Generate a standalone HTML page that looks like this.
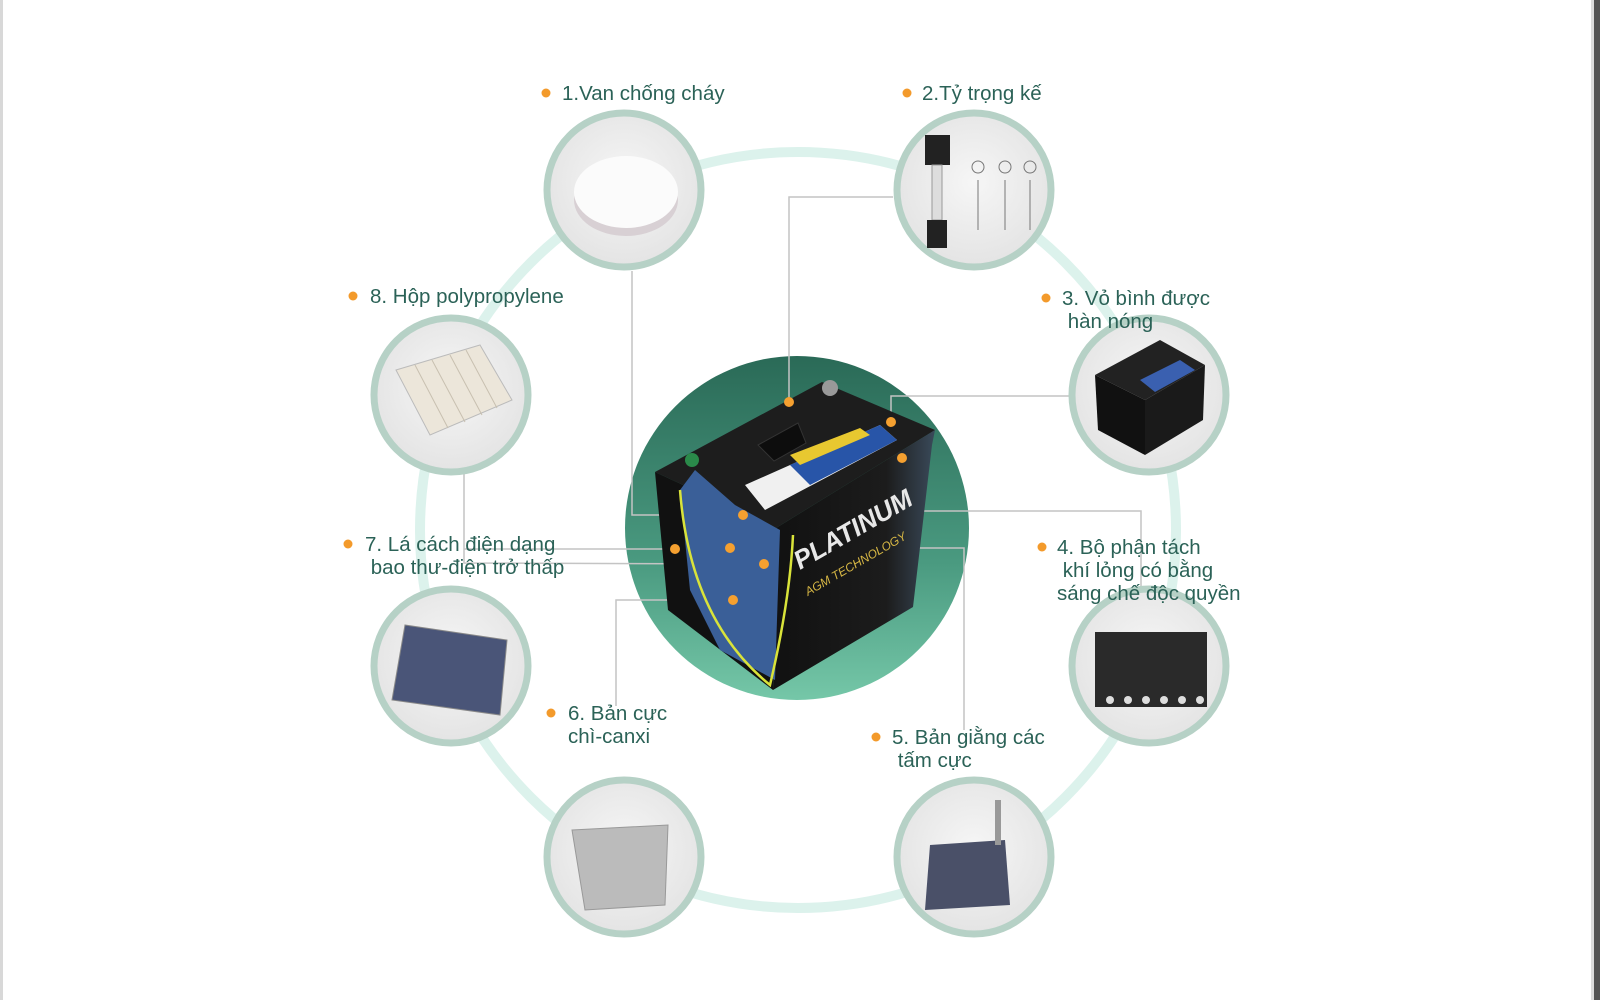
<!DOCTYPE html>
<html><head><meta charset="utf-8"><style>
html,body{margin:0;padding:0;background:#fff;}
body{width:1600px;height:1000px;position:relative;overflow:hidden;font-family:"Liberation Sans",sans-serif;}
.t{position:absolute;font-size:20.5px;color:#2b6257;line-height:23px;white-space:nowrap;}
</style></head><body>
<svg width="1600" height="1000" style="position:absolute;left:0;top:0">
<defs>
<linearGradient id="g" x1="0" y1="0" x2="0" y2="1"><stop offset="0" stop-color="#2a6a57"/><stop offset="0.6" stop-color="#4a9a80"/><stop offset="1" stop-color="#75c7a8"/></linearGradient>
<radialGradient id="sc" cx="0.5" cy="0.45" r="0.6"><stop offset="0" stop-color="#f6f6f6"/><stop offset="1" stop-color="#e2e2e2"/></radialGradient>
<linearGradient id="fr" x1="0" y1="0" x2="1" y2="0"><stop offset="0" stop-color="#111"/><stop offset="0.7" stop-color="#1c1c1c"/><stop offset="1" stop-color="#3a4a5a"/></linearGradient>
</defs>
<rect x="0" y="0" width="3" height="1000" fill="#d8d8d8"/>
<rect x="1594" y="0" width="6" height="1000" fill="#555"/>
<rect x="1591" y="0" width="3" height="1000" fill="#ddd"/>
<circle cx="798" cy="530" r="378" fill="none" stroke="#dcf2ec" stroke-width="10"/>
<circle cx="797" cy="528" r="172" fill="url(#g)"/>
<g stroke="#c4c4c4" stroke-width="1.5" fill="none">
<polyline points="632,271 632,515 743,515"/>
<polyline points="893,197 789,197 789,402"/>
<polyline points="1069,396 891,396 891,422"/>
<polyline points="902,458 904,458 904,511 1141,511 1141,588"/>
<polyline points="730,548 964,548 964,730"/>
<polyline points="733,600 616,600 616,706"/>
<polyline points="464,474 464,563 764,564"/>
<polyline points="464,549 675,549"/>
</g>
<polygon points="655,472 822,382 935,430 776,528" fill="#1d1d1d"/>
<polygon points="655,472 776,528 773,690 668,610" fill="#111"/>
<polygon points="776,528 935,430 932,445 913,607 773,690" fill="url(#fr)"/>
<polygon points="745,485 880,425 897,440 765,510" fill="#f0f0f0"/>
<polygon points="790,465 880,425 897,440 810,485" fill="#2855a8"/>
<polygon points="790,455 860,428 870,435 800,465" fill="#e8c830"/>
<path d="M758,445 l40,-22 l8,20 l-32,18 z" fill="#0d0d0d" stroke="#333"/>
<circle cx="830" cy="388" r="8" fill="#999"/>
<circle cx="692" cy="460" r="7" fill="#2a8a4a"/>
<path d="M680,490 L695,470 L735,505 L780,530 L775,680 L720,650 L690,590 Z" fill="#3a5f98"/>
<path d="M680,490 Q690,620 770,685 Q790,600 793,535" fill="none" stroke="#d9e33a" stroke-width="2.5"/>
<text x="800" y="570" fill="#e8e8e8" font-size="26" font-style="italic" font-weight="bold" transform="rotate(-30 800 570)">PLATINUM</text>
<text x="808" y="596" fill="#d8b845" font-size="12" font-style="italic" transform="rotate(-30 808 596)">AGM TECHNOLOGY</text>
<g fill="#f5a030">
<circle cx="789" cy="402" r="5"/><circle cx="891" cy="422" r="5"/><circle cx="902" cy="458" r="5"/>
<circle cx="743" cy="515" r="5"/><circle cx="675" cy="549" r="5"/><circle cx="730" cy="548" r="5"/>
<circle cx="764" cy="564" r="5"/><circle cx="733" cy="600" r="5"/>
</g>
<g stroke="#b6d1c6" stroke-width="7" fill="url(#sc)">
<circle cx="624" cy="190" r="77"/><circle cx="974" cy="190" r="77"/>
<circle cx="1149" cy="395" r="77"/><circle cx="1149" cy="666" r="77"/>
<circle cx="974" cy="857" r="77"/><circle cx="624" cy="857" r="77"/>
<circle cx="451" cy="666" r="77"/><circle cx="451" cy="395" r="77"/>
</g>
<ellipse cx="626" cy="200" rx="52" ry="36" fill="#d8d0d4"/>
<ellipse cx="626" cy="192" rx="52" ry="36" fill="#fbfbfb"/>
<rect x="925" y="135" width="25" height="30" fill="#222"/><rect x="932" y="165" width="10" height="55" fill="#ddd" stroke="#999"/><rect x="927" y="220" width="20" height="28" fill="#222"/>
<g fill="none" stroke="#777"><circle cx="978" cy="167" r="6"/><circle cx="1005" cy="167" r="6"/><circle cx="1030" cy="167" r="6"/><line x1="978" y1="180" x2="978" y2="230"/><line x1="1005" y1="180" x2="1005" y2="230"/><line x1="1030" y1="180" x2="1030" y2="230"/></g>
<polygon points="1095,375 1160,340 1205,365 1145,400" fill="#222"/><polygon points="1095,375 1145,400 1145,455 1098,430" fill="#111"/><polygon points="1145,400 1205,365 1203,420 1145,455" fill="#1a1a1a"/><polygon points="1140,380 1180,360 1195,370 1155,392" fill="#3a60b0"/>
<rect x="1095" y="632" width="112" height="75" fill="#2a2a2a"/><g fill="#ddd"><circle cx="1110" cy="700" r="4"/><circle cx="1128" cy="700" r="4"/><circle cx="1146" cy="700" r="4"/><circle cx="1164" cy="700" r="4"/><circle cx="1182" cy="700" r="4"/><circle cx="1200" cy="700" r="4"/></g>
<polygon points="930,845 1005,840 1010,905 925,910" fill="#4a5068"/><rect x="995" y="800" width="6" height="45" fill="#999"/>
<polygon points="572,830 668,825 665,905 585,910" fill="#bbb" stroke="#999"/>
<polygon points="405,625 507,640 500,715 392,700" fill="#4a5578" stroke="#888"/>
<polygon points="396,370 480,345 512,400 430,435" fill="#ece6da" stroke="#bbb"/>
<g stroke="#c8c0b0"><line x1="415" y1="365" x2="448" y2="428"/><line x1="432" y1="360" x2="465" y2="422"/><line x1="450" y1="355" x2="482" y2="415"/><line x1="466" y1="350" x2="497" y2="408"/></g>
<g fill="#f39a2b">
<circle cx="546" cy="93" r="4.5"/><circle cx="907" cy="93" r="4.5"/><circle cx="1046" cy="298" r="4.5"/>
<circle cx="1042" cy="547" r="4.5"/><circle cx="876" cy="737" r="4.5"/><circle cx="551" cy="713" r="4.5"/>
<circle cx="348" cy="544" r="4.5"/><circle cx="353" cy="296" r="4.5"/>
</g>
</svg>
<div class="t" style="left:562px;top:82px">1.Van chống cháy</div>
<div class="t" style="left:922px;top:82px">2.Tỷ trọng kế</div>
<div class="t" style="left:1062px;top:287px">3. Vỏ bình được<br>&nbsp;hàn nóng</div>
<div class="t" style="left:1057px;top:536px">4. Bộ phận tách<br>&nbsp;khí lỏng có bằng<br>sáng chế độc quyền</div>
<div class="t" style="left:892px;top:726px">5. Bản giằng các<br>&nbsp;tấm cực</div>
<div class="t" style="left:568px;top:702px">6. Bản cực<br>chì-canxi</div>
<div class="t" style="left:365px;top:533px">7. Lá cách điện dạng<br>&nbsp;bao thư-điện trở thấp</div>
<div class="t" style="left:370px;top:285px">8. Hộp polypropylene</div>
</body></html>
